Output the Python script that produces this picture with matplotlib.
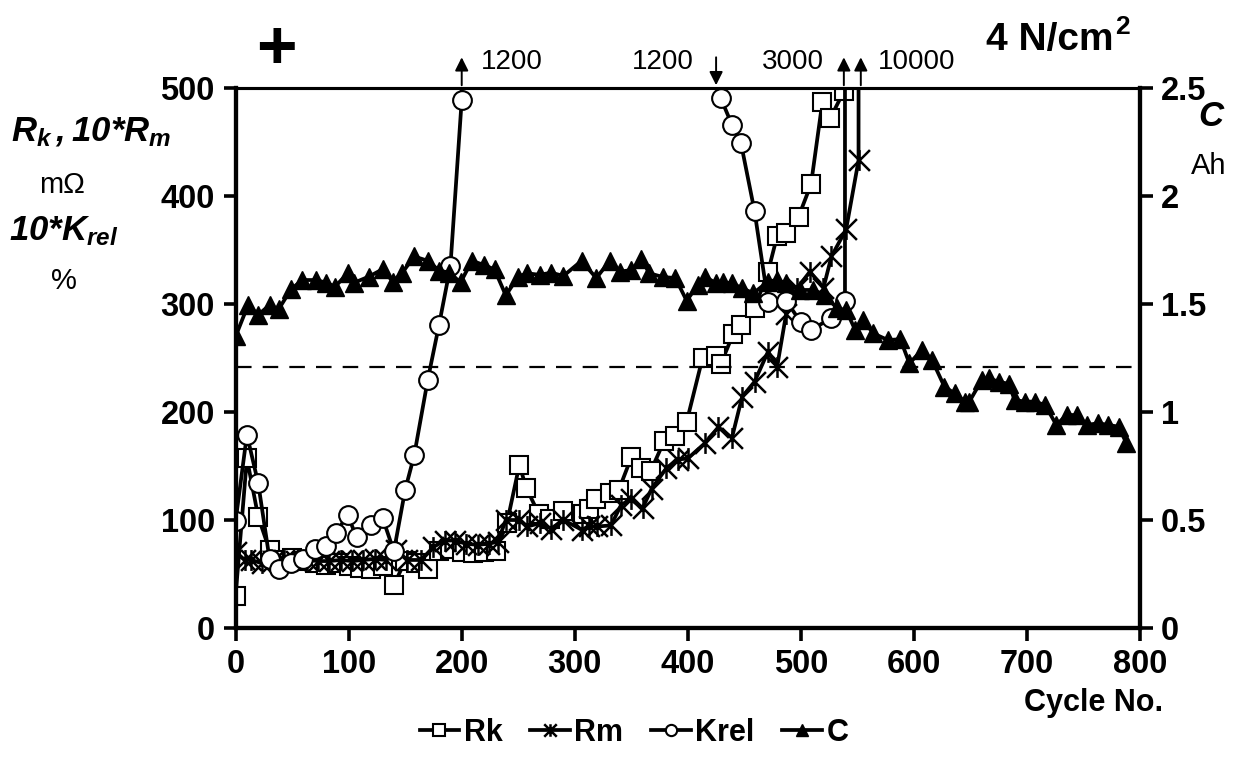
import numpy as np
import matplotlib
matplotlib.use('Agg')
import matplotlib.pyplot as plt
from matplotlib.path import Path

plt.rcParams['font.family'] = ['Liberation Sans', 'DejaVu Sans']
plt.rcParams['mathtext.fontset'] = 'custom'
plt.rcParams['mathtext.it'] = 'Liberation Sans:bold:italic'
plt.rcParams['mathtext.rm'] = 'Liberation Sans:bold:italic'
plt.rcParams['mathtext.bf'] = 'Liberation Sans:bold:italic'

nan = np.nan

# Rk, mOhm
rk_x = [0, 10, 20, 30, 40, 50, 60, 70, 80, 90, 100, 110, 120, 130, 140, 150, 160, 170,
        180, 190, 200, 210, 220, 230, 240, 251, 257, 268, 278, 290, 307, 313, 319, 331, 339,
        350, 359, 367, 379, 389, 399, 413, 425, 429, 440, 447, 459, 471, 479, 487, 498,
        509, 519, 526, 538]
rk_y = [30, 157, 103, 72, 63, 65, 62, 60, 58, 60, 57, 56, 55, 57, 40, 62, 60, 55,
        71, 73, 70, 69, 70, 71, 97, 151, 130, 106, 101, 108, 106, 110, 119, 125, 128,
        158, 148, 145, 173, 178, 191, 250, 252, 244, 272, 281, 296, 330, 363, 366, 381,
        411, 487, 472, 497]

# 10*Rm
rm_x = [0, 8, 14, 23, 33, 43, 53, 63, 73, 83, 93, 103, 113, 123, 133, 142, 152, 164,
        175, 185, 194, 204, 214, 224, 232, 239, 251, 258, 269, 279, 290, 306, 313, 320,
        332, 341, 350, 360, 368, 381, 391, 400, 415, 427, 439, 448, 459, 471, 479, 487,
        497, 508, 520, 527, 540, 551, 553]
rm_y = [70, 63, 63, 60, 62, 63, 62, 63, 62, 62, 63, 62, 63, 64, 63, 72, 63, 63,
        75, 81, 81, 78, 77, 78, 80, 100, 100, 94, 97, 92, 100, 91, 94, 94,
        95, 114, 119, 111, 129, 148, 156, 157, 171, 186, 176, 214, 228, 256, 242, 291,
        315, 330, 315, 344, 369, 433, 10000]

# 10*Krel, %
krel_x = [0, 10, 20, 30, 38, 49, 60, 70, 80, 89, 99, 107, 120, 130, 140, 150, 158, 170,
          180, 190, 200, 200, nan, 429, 439, 447, 459, 471, 487, 500, 509, 527, 539, 539]
krel_y = [99, 179, 134, 64, 55, 60, 64, 73, 76, 88, 105, 84, 95, 102, 71, 128, 160, 230,
          281, 335, 489, 1200, nan, 491, 466, 449, 386, 302, 303, 283, 276, 287, 303, 3000]

# C, Ah
c_x = [0, 11, 20, 30, 38, 49, 59, 71, 80, 88, 99, 105, 118, 130, 139, 147, 158, 170,
       180, 189, 199, 209, 220, 229, 239, 250, 258, 269, 279, 290, 306, 319, 331, 340,
       350, 359, 366, 378, 389, 399, 409, 415, 425, 431, 439, 448, 458, 471, 479, 487,
       499, 511, 521, 532, 540, 548, 555, 564, 577, 588, 596, 607, 616, 627, 636, 645,
       649, 660, 666, 675, 684, 689, 698, 707, 716, 726, 735, 744, 753, 763, 772, 781, 788]
c_y = [1.35, 1.495, 1.45, 1.495, 1.475, 1.568, 1.611, 1.611, 1.599, 1.58, 1.642, 1.599,
       1.627, 1.661, 1.604, 1.642, 1.72, 1.70, 1.655, 1.645, 1.60, 1.70, 1.68, 1.66, 1.54,
       1.627, 1.642, 1.635, 1.645, 1.63, 1.70, 1.62, 1.70, 1.65, 1.657, 1.707, 1.642, 1.625,
       1.62, 1.515, 1.59, 1.627, 1.596, 1.60, 1.596, 1.573, 1.55, 1.604, 1.611, 1.596,
       1.565, 1.565, 1.542, 1.48, 1.472, 1.38, 1.426, 1.364, 1.333, 1.337, 1.225, 1.287,
       1.241, 1.117, 1.086, 1.048, 1.048, 1.148, 1.156, 1.14, 1.13, 1.056, 1.048, 1.048,
       1.032, 0.94, 0.986, 0.986, 0.94, 0.948, 0.94, 0.932, 0.855]

c_limit = 1.21

# off-scale values written above the plot
off_x = [200, 425, 538, 553]
off_labels = ['1200', '1200', '3000', '10000']
off_up = [True, False, True, True]

# X with a vertical bar, like the Excel star marker
star = Path([(-1, -1), (1, 1), (-1, 1), (1, -1), (0, -1), (0, 1)],
            [Path.MOVETO, Path.LINETO, Path.MOVETO, Path.LINETO, Path.MOVETO, Path.LINETO])

fig = plt.figure(figsize=(12.4, 7.58), dpi=100)
ax = fig.add_axes([0.190, 0.1715, 0.7294, 0.7124])
ax2 = ax.twinx()

lw = 2.7
ms = 13.5
ax.plot(rk_x, rk_y, color='k', lw=lw, marker='s', ms=ms, mfc='white', mec='k', mew=1.5, label='Rk')
ax.plot(rm_x, rm_y, color='k', lw=lw, marker=star, ms=15, mec='k', mew=1.8, label='Rm')
ax.plot(krel_x, krel_y, color='k', lw=lw, marker='o', ms=ms, mfc='white', mec='k', mew=1.5, label='Krel')
ax2.plot(c_x, c_y, color='k', lw=lw, marker='^', ms=ms, mfc='k', mec='k', label='C')
ax2.axhline(c_limit, color='k', lw=1.6, dashes=(7, 5))

ax.set_xlim(0, 800)
ax.set_ylim(0, 500)
ax2.set_ylim(0, 2.5)
ax.set_xticks(range(0, 801, 100))
ax.set_yticks(range(0, 501, 100))
ax2.set_yticks([0, 0.5, 1, 1.5, 2, 2.5])
ax2.set_yticklabels(['0', '0.5', '1', '1.5', '2', '2.5'])

for a in (ax, ax2):
    for s in a.spines.values():
        s.set_linewidth(3.0)
    a.spines['top'].set_linewidth(2.2)
ax.tick_params(axis='both', direction='out', length=9, width=2.6, labelsize=23.5, pad=6)
ax2.tick_params(axis='y', direction='out', length=9, width=2.6, labelsize=23.5, pad=6)
for lab in ax.get_xticklabels() + ax.get_yticklabels() + ax2.get_yticklabels():
    lab.set_fontweight('bold')

# arrows for values beyond the scale
for x, lab, up in zip(off_x, off_labels, off_up):
    if up:
        ax.annotate('', xy=(x, 531), xytext=(x, 500), annotation_clip=False,
                    arrowprops=dict(arrowstyle='-|>', lw=1.4, color='k', mutation_scale=20))
    else:
        ax.annotate('', xy=(x, 500), xytext=(x, 531), annotation_clip=False,
                    arrowprops=dict(arrowstyle='-|>', lw=1.4, color='k', mutation_scale=20))
ax.text(217, 524, off_labels[0], fontsize=20, ha='left', va='center')
ax.text(405, 524, off_labels[1], fontsize=20, ha='right', va='center')
ax.text(520, 524, off_labels[2], fontsize=20, ha='right', va='center')
ax.text(568, 524, off_labels[3], fontsize=20, ha='left', va='center')

# axis titles
fig.text(91 / 1240, 1 - 132 / 758, r'$R_{k}\,, 10{*}R_{m}$', fontsize=25, ha='center', va='center')
fig.text(62 / 1240, 1 - 185 / 758, 'm\u03a9', fontsize=21, ha='center', va='center')
fig.text(64 / 1240, 1 - 231 / 758, r'$10{*}K_{rel}$', fontsize=25, ha='center', va='center')
fig.text(64 / 1240, 1 - 281 / 758, '%', fontsize=21, ha='center', va='center')
fig.text(1212 / 1240, 1 - 117 / 758, r'$C$', fontsize=25, ha='center', va='center')
fig.text(1209 / 1240, 1 - 166 / 758, 'Ah', fontsize=21, ha='center', va='center')
fig.text(276 / 1240, 1 - 50 / 758, '+', fontsize=50, fontweight='bold', ha='center', va='center')
fig.text(1113 / 1240, 1 - 40 / 758, '4 N/cm', fontsize=28, fontweight='bold', ha='right', va='center')
fig.text(1115 / 1240, 1 - 27 / 758, '2', fontsize=19, fontweight='bold', ha='left', va='center')
fig.text(1163 / 1240, 1 - 703 / 758, 'Cycle No.', fontsize=22, fontweight='bold', ha='right', va='center')

h1, l1 = ax.get_legend_handles_labels()
h2, l2 = ax2.get_legend_handles_labels()
fig.legend(h1 + h2, l1 + l2, loc='center', bbox_to_anchor=(634 / 1240, 1 - 733 / 758), ncol=4,
           frameon=False, handlelength=1.3, handletextpad=0.15, columnspacing=0.9,
           markerscale=0.6, prop={'size': 22, 'weight': 'bold'})

plt.savefig('out.png', dpi=100)
